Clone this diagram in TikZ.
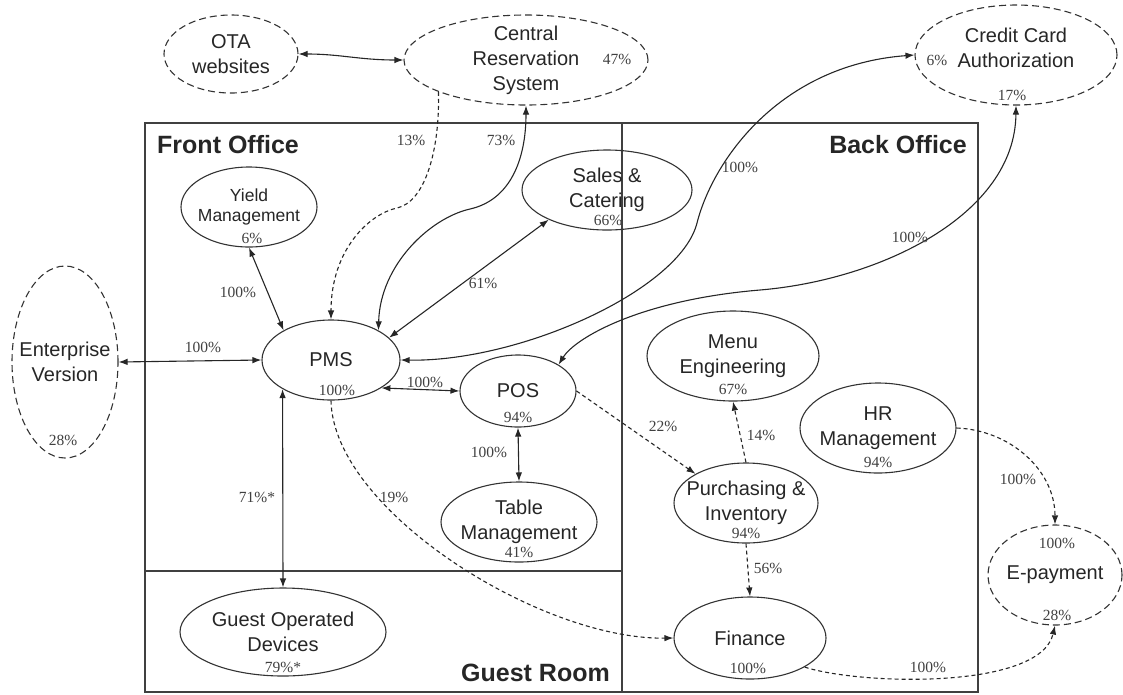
\documentclass[tikz,border=0pt]{standalone}
\usepackage{fontspec}
\setmainfont{Liberation Sans}
\newfontfamily\pctfamily{Liberation Serif}
\usetikzlibrary{shapes.geometric, arrows.meta}

\begin{document}
\begin{tikzpicture}[
  x=1pt, y=-1pt,
  font=\fontsize{20}{25}\selectfont,
  unit/.style={ellipse, draw=black!80, line width=1.1pt, inner sep=-10pt,
               align=center, text=black!85},
  extunit/.style={unit, dash pattern=on 7pt off 4pt},
  unittext/.style={align=center, text=black!85, inner sep=0pt},
  pct/.style={font=\pctfamily\fontsize{15.5}{17}\selectfont, text=black!75,
              inner sep=0pt},
  zone/.style={font=\bfseries\fontsize{25}{28}\selectfont, text=black!85,
               inner sep=0pt},
  zoneline/.style={draw=black!75, line width=1.3pt},
  flow/.style={draw=black!85, line width=1.1pt, -{Latex[length=9pt, width=6.5pt]}},
  duplex/.style={flow, {Latex[length=9pt, width=6.5pt]}-{Latex[length=9pt, width=6.5pt]}},
  dflow/.style={flow, dash pattern=on 4pt off 3pt},
]
\useasboundingbox (0,0) rectangle (1123,694);

% Zones of the hotel
\draw[zoneline] (145,123) rectangle (978,692);
\draw[zoneline] (622,123) -- (622,692);
\draw[zoneline] (145,571) -- (622,571);
\node[zone, anchor=west] (front) at (157,145) {Front Office};
\node[zone, anchor=east] (back)  at (967,145) {Back Office};
\node[zone, anchor=east] (room)  at (610,673) {Guest Room};

% External systems (dashed)
\node[extunit, minimum width=134, minimum height=78]  (ota)    at (231,54)   {OTA\\websites};
\node[extunit, minimum width=244, minimum height=90]  (crs)    at (526,60)   {Central\\Reservation\\System};
\node[extunit, minimum width=202, minimum height=100,
      label={[unittext, name=creditt, yshift=7pt]center:Credit Card\\Authorization}]
                                                      (credit) at (1016,55)  {};
\node[extunit, minimum width=106, minimum height=192] (ent)    at (65,362)   {Enterprise\\Version};
\node[extunit, minimum width=134, minimum height=100] (epay)   at (1055,575) {E-payment};

% Hotel systems
\node[unit, minimum width=136, minimum height=80,
      font=\fontsize{17.5}{20}\selectfont]            (yield) at (249,207) {Yield\\Management};
\node[unit, minimum width=170, minimum height=80]     (sales) at (607,190) {Sales \&\\Catering};
\node[unit, minimum width=138, minimum height=80]     (pms)   at (331,360) {PMS};
\node[unit, minimum width=116, minimum height=72]     (pos)   at (518,391) {POS};
\node[unit, minimum width=156, minimum height=80]     (table) at (519,522) {Table\\Management};
\node[unit, minimum width=206, minimum height=88]     (guest) at (283,632) {Guest Operated\\Devices};
\node[unit, minimum width=172, minimum height=90]     (menu)  at (733,356) {Menu\\Engineering};
\node[unit, minimum width=156, minimum height=90]     (hr)    at (878,428) {HR\\Management};
\node[unit, minimum width=144, minimum height=80]     (purch) at (746,503) {Purchasing \&\\Inventory};
\node[unit, minimum width=152, minimum height=82]     (fin)   at (750,638) {Finance};

% Adoption rates of the systems
\node[pct] (crsp)     at (617,59)   {47\%};
\node[pct] (creditp1) at (937,60)   {6\%};
\node[pct] (creditp2) at (1012,95)  {17\%};
\node[pct] (yieldp)   at (252,238)  {6\%};
\node[pct] (salesp)   at (608,220)  {66\%};
\node[pct] (entp)     at (63,440)   {28\%};
\node[pct] (pmsp)     at (337,390)  {100\%};
\node[pct] (posp)     at (518,417)  {94\%};
\node[pct] (tablep)   at (519,552)  {41\%};
\node[pct] (guestp)   at (283,667)  {79\%*};
\node[pct] (menup)    at (733,389)  {67\%};
\node[pct] (hrp)      at (878,462)  {94\%};
\node[pct] (purchp)   at (746,533)  {94\%};
\node[pct] (finp)     at (748,668)  {100\%};
\node[pct] (epayp1)   at (1057,543) {100\%};
\node[pct] (epayp2)   at (1057,615) {28\%};

% Interfaces
\draw[duplex] (ota.east) .. controls (340,54) and (360,60) .. (crs.west);
\draw[dflow] (crs.200) .. controls (440,150) and (425,202) .. (397,208)
  .. controls (369,214) and (331,250) .. (pms.north);
\draw[duplex] (crs.south) .. controls (526,160) and (510,200) .. (470,209)
  .. controls (430,218) and (380,265) .. (pms.32);
\draw[duplex] (yield.south) -- (pms.148);
\draw[duplex] (sales.207) -- (pms.21);
\draw[duplex] (ent.east) -- (pms.west);
\draw[duplex] (pms.-29) -- (pos.west);
\draw[duplex] (pos.south) -- (table.north);
\draw[duplex] (pms.211) -- (guest.north);
\draw[dflow] (pms.south) .. controls (333,510) and (540,640) .. (fin.west);
\draw[duplex] (pms.east) .. controls (520,362) and (680,290) .. (697,223)
  .. controls (713,160) and (780,65) .. (credit.west);
\draw[duplex] (pos.33) .. controls (575,338) and (640,300) .. (760,290)
  .. controls (880,280) and (1015,215) .. (credit.south);
\draw[dflow] (pos.east) -- (purch.150);
\draw[dflow] (purch.north) -- (menu.south);
\draw[dflow] (purch.south) -- (fin.north);
\draw[dflow] (hr.east) .. controls (1010,430) and (1055,470) .. (epay.north);
\draw[dflow] (fin.-28) .. controls (860,685) and (1040,690) .. (epay.south);

% Interface rates
\node[pct] (l13)    at (411,140)  {13\%};
\node[pct] (l73)    at (501,140)  {73\%};
\node[pct] (lyield) at (238,292)  {100\%};
\node[pct] (lsales) at (483,283)  {61\%};
\node[pct] (lent)   at (203,347)  {100\%};
\node[pct] (lpos)   at (425,382)  {100\%};
\node[pct] (ltable) at (489,452)  {100\%};
\node[pct] (lguest) at (257,497)  {71\%*};
\node[pct] (lfin)   at (394,497)  {19\%};
\node[pct] (lcard1) at (740,167)  {100\%};
\node[pct] (lcard2) at (910,237)  {100\%};
\node[pct] (lpurch) at (663,426)  {22\%};
\node[pct] (lmenu)  at (761,435)  {14\%};
\node[pct] (lfin2)  at (768,568)  {56\%};
\node[pct] (lhr)    at (1018,479) {100\%};
\node[pct] (lepay)  at (928,667)  {100\%};
\end{tikzpicture}
\end{document}
